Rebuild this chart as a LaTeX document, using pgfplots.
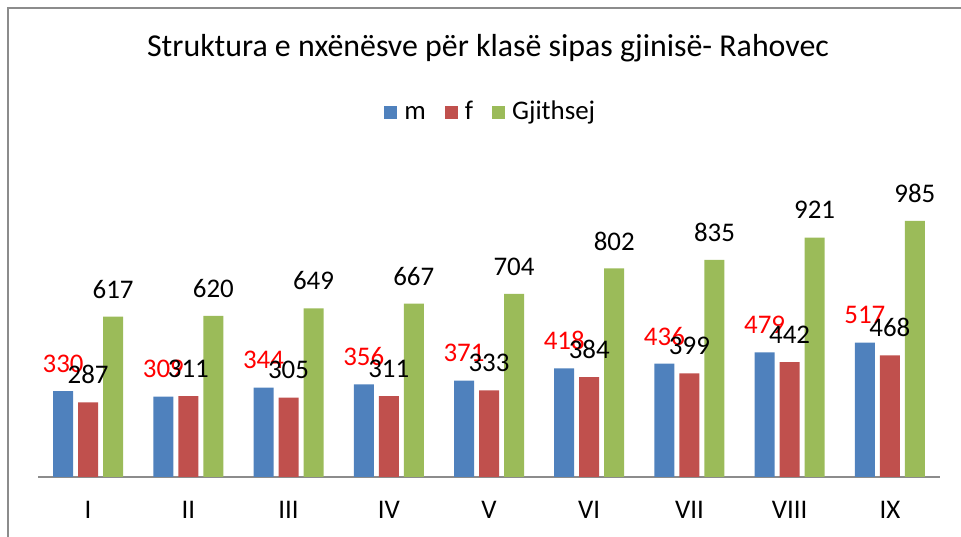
\documentclass[border=0pt]{standalone}
\usepackage{pgfplots}
\pgfplotsset{compat=1.18}
\usepackage{fontspec}
\setmainfont{Carlito}
\definecolor{cblue}{HTML}{4F81BD}
\definecolor{cred}{HTML}{C0504D}
\definecolor{cgreen}{HTML}{9BBB59}
\begin{document}
\begin{tikzpicture}[x=1bp,y=1bp]
\useasboundingbox (0,0) rectangle (961,537);
\draw[color=black!45, line width=1.5bp] (8,-5) -- (8,529) -- (966,529);
\node[font=\fontsize{32}{38}\selectfont] at (488,489) {Struktura e nxënësve për klasë sipas gjinisë- Rahovec};
\begin{axis}[
  at={(38bp,60bp)}, anchor=south west,
  scale only axis, width=902bp, height=312bp,
  ybar=5bp, bar width=20bp,
  xmin=-0.5, xmax=8.5, ymin=0, ymax=1200,
  axis x line*=bottom, axis y line=none,
  x axis line style={black!45, line width=2bp},
  xtick=data, xticklabels={I,II,III,IV,V,VI,VII,VIII,IX},
  major tick length=0pt,
  ytick=\empty,
  xticklabel style={font=\fontsize{27}{32}\selectfont, yshift=-21bp},
  /pgf/number format/assume math mode=true,
  nodes near coords,
  nodes near coords style={font=\fontsize{27}{32}\selectfont, anchor=center, yshift=27.5bp},
  clip=false,
  legend columns=3,
  legend style={at={(0.502,1.159)}, anchor=center, draw=none, fill=none,
    font=\fontsize{27}{32}\selectfont,
    nodes={text height=0.75em, text depth=0.25em},
    /tikz/every odd column/.append style={column sep=5bp},
    /tikz/every even column/.append style={column sep=17bp}},
  legend image code/.code={\fill[#1] (0bp,-2bp) rectangle (13bp,11bp);},
]
\addplot[fill=cblue, draw=none, every node near coord/.append style={text=red}]
  coordinates {(0,330) (1,309) (2,344) (3,356) (4,371) (5,418) (6,436) (7,479) (8,517)};
\addplot[fill=cred, draw=none, every node near coord/.append style={text=black}]
  coordinates {(0,287) (1,311) (2,305) (3,311) (4,333) (5,384) (6,399) (7,442) (8,468)};
\addplot[fill=cgreen, draw=none, every node near coord/.append style={text=black}]
  coordinates {(0,617) (1,620) (2,649) (3,667) (4,704) (5,802) (6,835) (7,921) (8,985)};
\legend{m,f,Gjithsej}
\end{axis}
\end{tikzpicture}
\end{document}
